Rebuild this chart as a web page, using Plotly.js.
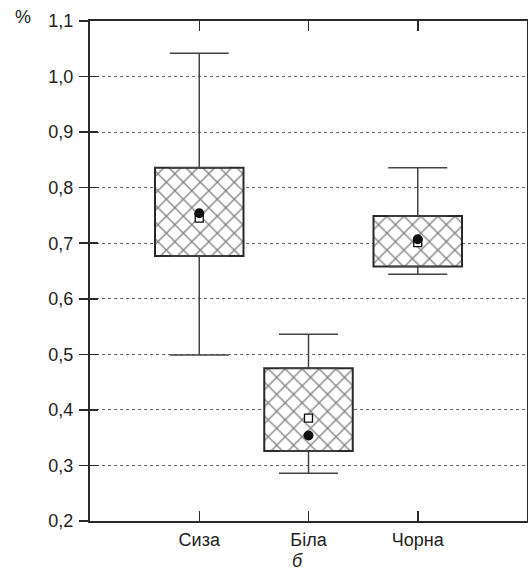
<!DOCTYPE html>
<html><head><meta charset="utf-8">
<script src="https://cdn.plot.ly/plotly-3.0.1.min.js"></script>
<style>body{margin:0;background:#fff}#c{width:528px;height:572px}</style>
</head><body><div id="c"></div>
<script>
const categories = ['Сиза', 'Біла', 'Чорна'];
const upperWhisker = [1.042, 0.536, 0.836];
const q3 = [0.836, 0.475, 0.749];
const q1 = [0.677, 0.326, 0.658];
const lowerWhisker = [0.499, 0.286, 0.644];
const meanVals = [0.754, 0.354, 0.707];   // filled circles
const medianVals = [0.745, 0.385, 0.701]; // open squares
const yTickVals = [0.2, 0.3, 0.4, 0.5, 0.6, 0.7, 0.8, 0.9, 1.0, 1.1];
const yTickText = ['0,2', '0,3', '0,4', '0,5', '0,6', '0,7', '0,8', '0,9', '1,0', '1,1'];
const unitLabel = '%';
const panelLabel = 'б';

const FONT = 'Liberation Sans, Arial, sans-serif';
const dark = '#2a2a2a';
const zeros = categories.map(() => 0);

const traces = [
  {
    type: 'bar', x: categories, base: q1,
    y: q3.map((v, i) => v - q1[i]),
    width: 0.81,
    marker: {
      color: '#ffffff',
      line: {color: dark, width: 2},
      pattern: {shape: 'x', fgcolor: '#000000', bgcolor: '#ffffff', size: 12, solidity: 0.2, fillmode: 'overlay'}
    },
    hoverinfo: 'skip', showlegend: false
  },
  {
    type: 'scatter', mode: 'markers', x: categories, y: q3,
    marker: {size: 1, color: 'rgba(0,0,0,0)'},
    error_y: {type: 'data', symmetric: false,
      array: upperWhisker.map((v, i) => v - q3[i]), arrayminus: zeros,
      width: 29.5, thickness: 1.5, color: '#444'},
    showlegend: false, hoverinfo: 'skip'
  },
  {
    type: 'scatter', mode: 'markers', x: categories, y: q1,
    marker: {size: 1, color: 'rgba(0,0,0,0)'},
    error_y: {type: 'data', symmetric: false,
      array: zeros, arrayminus: q1.map((v, i) => v - lowerWhisker[i]),
      width: 29.5, thickness: 1.5, color: '#444'},
    showlegend: false, hoverinfo: 'skip'
  },
  {
    type: 'scatter', mode: 'markers', x: categories, y: medianVals, yaxis: 'y2',
    marker: {symbol: 'square', size: 8, color: '#ffffff', line: {color: '#111', width: 1.3}},
    showlegend: false
  },
  {
    type: 'scatter', mode: 'markers', x: categories, y: meanVals, yaxis: 'y2',
    marker: {symbol: 'circle', size: 10, color: '#111'},
    showlegend: false
  }
];

const layout = {
  width: 528, height: 572,
  margin: {l: 90, r: 1, t: 21, b: 51},
  paper_bgcolor: '#fff', plot_bgcolor: '#fff',
  font: {family: FONT, size: 18, color: '#222'},
  showlegend: false,
  xaxis: {
    type: 'category', range: [-1, 3],
    showline: true, linecolor: dark, linewidth: 2, mirror: 'ticks',
    ticks: 'inside', ticklen: 10, tickwidth: 1.5, tickcolor: dark,
    showgrid: false, zeroline: false,
    tickfont: {family: FONT, size: 18, color: '#222'},
    ticklabelstandoff: 1
  },
  yaxis: {
    range: [0.2, 1.1], tickvals: yTickVals, ticktext: yTickText,
    showline: true, linecolor: dark, linewidth: 2, mirror: true,
    ticks: 'outside', ticklen: 9, tickwidth: 1.5, tickcolor: dark,
    showgrid: true, gridcolor: '#666', gridwidth: 1, griddash: '3px,3px',
    zeroline: false,
    tickfont: {family: FONT, size: 18, color: '#222'},
    ticklabelstandoff: 2
  },
  yaxis2: {
    overlaying: 'y', side: 'left',
    range: [0.2, 1.1], tickvals: yTickVals,
    showticklabels: false, showgrid: false, showline: false, zeroline: false,
    ticks: 'inside', ticklen: 8, tickwidth: 1.5, tickcolor: dark
  },
  annotations: [
    {text: unitLabel, xref: 'paper', yref: 'paper', x: (23 - 90) / 437, y: 1.008,
     xanchor: 'center', yanchor: 'middle', showarrow: false,
     font: {family: FONT, size: 18, color: '#222'}},
    {text: '<i>' + panelLabel + '</i>', xref: 'paper', yref: 'paper', x: (297 - 90) / 437, y: -0.1015,
     xanchor: 'center', yanchor: 'bottom', showarrow: false, borderpad: 0,
     font: {family: FONT, size: 18, color: '#222'}}
  ]
};

Plotly.newPlot('c', traces, layout, {staticPlot: true, displayModeBar: false});
</script>
</body></html>
